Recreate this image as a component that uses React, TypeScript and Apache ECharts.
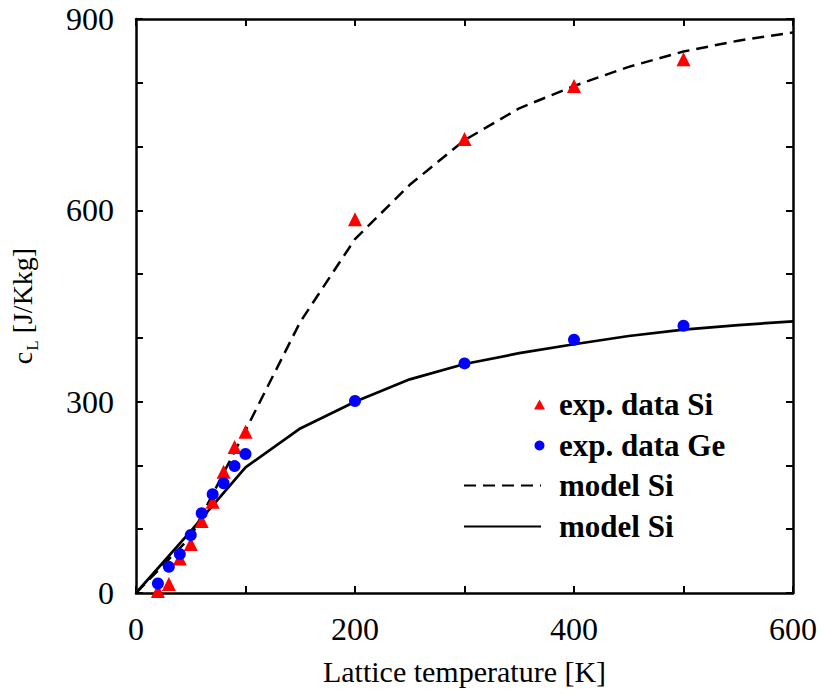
import React, { useEffect, useRef } from "react";
import * as echarts from "echarts";

// Measured specific heat, Si (triangles)
const siTemp = [20, 30, 40, 50, 60, 70, 80, 90, 100, 200, 300, 400, 500];
const siHeat = [3, 14, 54, 77, 113, 143, 190, 229, 253, 586, 712, 795, 837];

// Measured specific heat, Ge (circles)
const geTemp = [20, 30, 40, 50, 60, 70, 80, 90, 100, 200, 300, 400, 500];
const geHeat = [15, 41, 61, 91, 125, 155, 172, 199, 218, 301, 360, 397, 419];

// Model curves
const modelTemp = [0, 50, 100, 150, 200, 250, 300, 350, 400, 450, 500, 550, 600];
const modelSi = [0, 88, 255, 425, 555, 640, 710, 760, 795, 825, 849, 866, 879];
const modelGe = [0, 97, 197, 258, 300, 335, 359, 376, 390, 403, 413, 420, 426];

const xTickLabels = [0, 200, 400, 600];
const yTickLabels = [0, 300, 600, 900];

const SERIF = "Liberation Serif";

const pairs = (xs: number[], ys: number[]) => xs.map((x, i) => [x, ys[i]]);

export default function App() {
  const ref = useRef<HTMLDivElement>(null);

  useEffect(() => {
    if (!ref.current) return;
    const chart = echarts.init(ref.current, undefined, { renderer: "svg" });

    const frameLine = { show: true, onZero: false, lineStyle: { color: "#000", width: 2.5 } };
    const innerTick = { show: true, inside: true, length: 7, lineStyle: { color: "#000", width: 2 } };
    const tickText = { fontFamily: SERIF, fontSize: 32, color: "#000" };

    const legendText = {
      fontFamily: SERIF,
      fontWeight: "bold" as const,
      fontSize: 31,
      color: "#000",
      lineHeight: 30,
    };

    chart.setOption({
      animation: false,
      backgroundColor: "#fff",
      grid: { left: 135, right: 30, top: 19, bottom: 101 },
      xAxis: [
        {
          type: "value",
          min: 0,
          max: 600,
          interval: 100,
          position: "bottom",
          axisLine: frameLine,
          axisTick: innerTick,
          splitLine: { show: false },
          axisLabel: {
            ...tickText,
            margin: 20,
            formatter: (v: number) => (xTickLabels.includes(v) ? String(v) : ""),
          },
          name: "Lattice temperature [K]",
          nameLocation: "middle",
          nameGap: 63,
          nameTextStyle: { fontFamily: SERIF, fontSize: 30, color: "#000", lineHeight: 30 },
        },
        {
          type: "value",
          min: 0,
          max: 600,
          interval: 100,
          position: "top",
          axisLine: frameLine,
          axisTick: innerTick,
          splitLine: { show: false },
          axisLabel: { show: false },
        },
      ],
      yAxis: [
        {
          type: "value",
          min: 0,
          max: 900,
          interval: 100,
          position: "left",
          axisLine: frameLine,
          axisTick: innerTick,
          splitLine: { show: false },
          axisLabel: {
            ...tickText,
            margin: 22,
            formatter: (v: number) => (yTickLabels.includes(v) ? String(v) : ""),
          },
          name: "{m|c}{s|L}{m| [J/Kkg]}",
          nameLocation: "middle",
          nameGap: 100,
          nameRotate: 90,
          nameTextStyle: {
            rich: {
              m: { fontFamily: SERIF, fontSize: 28, color: "#000", lineHeight: 28, verticalAlign: "top" },
              s: {
                fontFamily: SERIF,
                fontSize: 17,
                color: "#000",
                lineHeight: 17,
                padding: [16, 0, 0, 1],
                verticalAlign: "top",
              },
            },
          },
        },
        {
          type: "value",
          min: 0,
          max: 900,
          interval: 100,
          position: "right",
          axisLine: frameLine,
          axisTick: innerTick,
          splitLine: { show: false },
          axisLabel: { show: false },
        },
      ],
      legend: [
        {
          orient: "vertical",
          left: 534,
          top: 389,
          padding: 0,
          itemWidth: 11,
          itemHeight: 10,
          itemGap: 10,
          data: ["exp. data Si", "exp. data Ge"],
          textStyle: { ...legendText, padding: [0, 0, 0, 9] },
        },
        {
          orient: "vertical",
          left: 463,
          top: 470,
          padding: 0,
          itemWidth: 77,
          itemHeight: 14,
          itemGap: 10,
          data: ["model Si", "model Ge"],
          // key shows the line only, no point marker
          itemStyle: { opacity: 0 },
          // the printed key labels both model curves "model Si"
          formatter: () => "model Si",
          textStyle: { ...legendText, padding: [0, 0, 0, 13] },
        },
      ],
      series: [
        {
          name: "model Si",
          type: "line",
          data: pairs(modelTemp, modelSi),
          symbol: "none",
          lineStyle: { color: "#000", width: 2.5, type: [12, 7] },
          itemStyle: { color: "#000" },
          z: 2,
        },
        {
          name: "model Ge",
          type: "line",
          data: pairs(modelTemp, modelGe),
          symbol: "none",
          lineStyle: { color: "#000", width: 2.7, type: "solid" },
          itemStyle: { color: "#000" },
          z: 2,
        },
        {
          name: "exp. data Si",
          type: "scatter",
          data: pairs(siTemp, siHeat),
          symbol: "triangle",
          symbolSize: 14,
          itemStyle: { color: "#ff0000", opacity: 1 },
          z: 3,
        },
        {
          name: "exp. data Ge",
          type: "scatter",
          data: pairs(geTemp, geHeat),
          symbol: "circle",
          symbolSize: 12,
          itemStyle: { color: "#0000ff", opacity: 1 },
          z: 3,
        },
      ],
    });

    return () => chart.dispose();
  }, []);

  return (
    <div
      ref={ref}
      style={{ position: "fixed", left: 0, top: 0, width: 823, height: 694, background: "#fff" }}
    />
  );
}
